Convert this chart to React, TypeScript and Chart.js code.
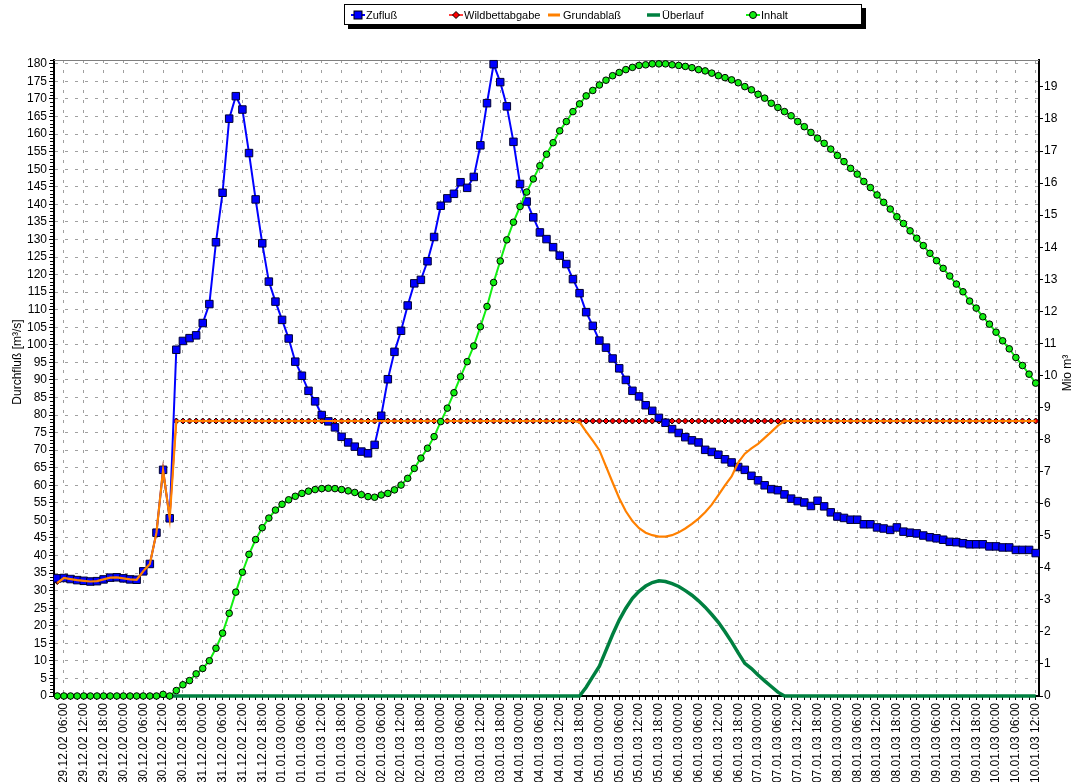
import React, { useEffect, useRef } from 'react';
import { Chart, registerables } from 'chart.js';

Chart.register(...registerables);

// ---- time axis (2-hour steps, 29.12.02 04:00 .. 10.01.03 12:00) ----
const START_UTC = Date.UTC(2002, 11, 29, 4, 0);
const STEP_HOURS = 2;
const N_POINTS = 149;
const pad2 = (n: number) => String(n).padStart(2, '0');
const fmtLabel = (t: number) => {
  const d = new Date(t);
  return `${pad2(d.getUTCDate())}.${pad2(d.getUTCMonth() + 1)}.${pad2(d.getUTCFullYear() % 100)} ${pad2(d.getUTCHours())}:${pad2(d.getUTCMinutes())}`;
};
const timeLabels: string[] = Array.from({ length: N_POINTS }, (_, i) => fmtLabel(START_UTC + i * STEP_HOURS * 3600000));
const isMajor = (i: number) => {
  const l = timeLabels[i] || '';
  return /(00|06|12|18):00$/.test(l);
};

// ---- series (m³/s on left axis) ----
const zufluss: number[] = [
  33.5, 33.6, 33.3, 33.0, 32.8, 32.6, 32.7, 33.2, 33.7, 33.8, 33.5, 33.2, 33.1, 35.5, 37.6, 46.5, 64.4, 50.6,
  98.6, 101.1, 101.9, 102.7, 106.2, 111.6, 129.2, 143.3, 164.4, 170.8, 167.0, 154.6,
  141.4, 128.9, 118.0, 112.3, 107.1, 101.8, 95.2, 91.2, 86.9, 83.9,
  80.0, 78.2, 76.5, 73.8, 72.2, 71.0, 69.6, 69.1, 71.5, 79.8,
  90.2, 98.0, 104.0, 111.2, 117.5, 118.5, 123.8, 130.7, 139.6, 141.7,
  143.0, 146.3, 144.7, 147.8, 156.8, 168.8, 179.9, 174.8, 167.9, 157.8,
  145.8, 140.8, 136.3, 132.0, 130.1, 127.8, 125.4, 123.0, 118.7, 114.7,
  109.3, 105.4, 101.2, 99.2, 96.1, 93.3, 90.0, 86.9, 85.3, 82.8,
  81.2, 79.2, 77.8, 76.0, 74.9, 73.7, 72.8, 72.2, 70.1, 69.5,
  68.7, 67.4, 66.5, 65.2, 64.4, 62.7, 61.4, 60.0, 58.9, 58.6,
  57.4, 56.2, 55.5, 55.1, 54.1, 55.6, 54.0, 52.3, 51.1, 50.7,
  50.2, 50.2, 48.9, 48.9, 48.0, 47.7, 47.3, 48.0, 46.8, 46.5,
  46.3, 45.7, 45.2, 44.9, 44.5, 43.9, 43.8, 43.5, 43.2, 43.2,
  43.2, 42.6, 42.6, 42.3, 42.3, 41.6, 41.6, 41.6, 40.7,
];

const wildbettabgabe: number[] = [
  32.6, 33.6, 33.3, 33.0, 32.8, 32.6, 32.7, 33.2, 33.7, 33.8, 33.5, 33.2, 33.1, 35.5, 37.6, 46.5, 64.4, 50.6,
  78.3, 78.3, 78.3, 78.3, 78.3, 78.3, 78.3, 78.3, 78.3, 78.3, 78.3, 78.3,
  78.3, 78.3, 78.3, 78.3, 78.3, 78.3, 78.3, 78.3, 78.3, 78.3,
  78.3, 78.3, 78.3, 78.3, 78.3, 78.3, 78.3, 78.3, 78.3, 78.3,
  78.3, 78.3, 78.3, 78.3, 78.3, 78.3, 78.3, 78.3, 78.3, 78.3,
  78.3, 78.3, 78.3, 78.3, 78.3, 78.3, 78.3, 78.3, 78.3, 78.3,
  78.3, 78.3, 78.3, 78.3, 78.3, 78.3, 78.3, 78.3, 78.3, 78.3,
  78.3, 78.3, 78.3, 78.3, 78.3, 78.3, 78.3, 78.3, 78.3, 78.3,
  78.3, 78.3, 78.3, 78.3, 78.3, 78.3, 78.3, 78.3, 78.3, 78.3,
  78.3, 78.3, 78.3, 78.3, 78.3, 78.3, 78.3, 78.3, 78.3, 78.3,
  78.3, 78.3, 78.3, 78.3, 78.3, 78.3, 78.3, 78.3, 78.3, 78.3,
  78.3, 78.3, 78.3, 78.3, 78.3, 78.3, 78.3, 78.3, 78.3, 78.3,
  78.3, 78.3, 78.3, 78.3, 78.3, 78.3, 78.3, 78.3, 78.3, 78.3,
  78.3, 78.3, 78.3, 78.3, 78.3, 78.3, 78.3, 78.3, 78.3,
];

const grundablass: number[] = [
  32.2, 33.6, 33.3, 33.0, 32.8, 32.6, 32.7, 33.2, 33.7, 33.8, 33.5, 33.2, 33.1, 35.5, 37.6, 46.5, 64.4, 50.6,
  78.3, 78.3, 78.3, 78.3, 78.3, 78.3, 78.3, 78.3, 78.3, 78.3, 78.3, 78.3,
  78.3, 78.3, 78.3, 78.3, 78.3, 78.3, 78.3, 78.3, 78.3, 78.3,
  78.3, 78.3, 78.3, 78.3, 78.3, 78.3, 78.3, 78.3, 78.3, 78.3,
  78.3, 78.3, 78.3, 78.3, 78.3, 78.3, 78.3, 78.3, 78.3, 78.3,
  78.3, 78.3, 78.3, 78.3, 78.3, 78.3, 78.3, 78.3, 78.3, 78.3,
  78.3, 78.3, 78.3, 78.3, 78.3, 78.3, 78.3, 78.3, 78.3, 78.0,
  75.3, 72.7, 70.0, 65.4, 60.8, 56.3, 52.6, 49.8, 47.8, 46.5,
  45.8, 45.4, 45.4, 45.8, 46.6, 47.7, 49.0, 50.5, 52.3, 54.5,
  57.2, 60.0, 62.5, 66.5, 69.0, 70.5, 71.8, 73.5, 75.2, 77.0,
  78.3, 78.3, 78.3, 78.3, 78.3, 78.3, 78.3, 78.3, 78.3, 78.3,
  78.3, 78.3, 78.3, 78.3, 78.3, 78.3, 78.3, 78.3, 78.3, 78.3,
  78.3, 78.3, 78.3, 78.3, 78.3, 78.3, 78.3, 78.3, 78.3, 78.3,
  78.3, 78.3, 78.3, 78.3, 78.3, 78.3, 78.3, 78.3, 78.3,
];

const ueberlauf: number[] = [
  0, 0, 0, 0, 0, 0, 0, 0, 0, 0, 0, 0, 0, 0, 0, 0, 0, 0,
  0, 0, 0, 0, 0, 0, 0, 0, 0, 0, 0, 0,
  0, 0, 0, 0, 0, 0, 0, 0, 0, 0,
  0, 0, 0, 0, 0, 0, 0, 0, 0, 0,
  0, 0, 0, 0, 0, 0, 0, 0, 0, 0,
  0, 0, 0, 0, 0, 0, 0, 0, 0, 0,
  0, 0, 0, 0, 0, 0, 0, 0, 0, 0,
  2.5, 5.5, 8.5, 13.0, 17.5, 21.6, 25.0, 27.8, 29.8, 31.3,
  32.3, 32.8, 32.6, 32.0, 31.2, 30.0, 28.7, 27.1, 25.3, 23.2,
  21.0, 18.3, 15.4, 12.3, 9.3, 7.8, 6.0, 4.3, 2.7, 1.1,
  0, 0, 0, 0, 0, 0, 0, 0, 0, 0,
  0, 0, 0, 0, 0, 0, 0, 0, 0, 0,
  0, 0, 0, 0, 0, 0, 0, 0, 0, 0,
  0, 0, 0, 0, 0, 0, 0, 0, 0,
];

// ---- storage (Mio m³ on right axis) ----
const inhalt: number[] = [
  0, 0, 0, 0, 0, 0, 0, 0, 0, 0, 0, 0, 0, 0, 0, 0, 0.05, 0,
  0.17, 0.35, 0.48, 0.69, 0.86, 1.10, 1.49, 1.96, 2.58, 3.24, 3.86, 4.42,
  4.88, 5.25, 5.55, 5.80, 5.98, 6.12, 6.23, 6.32, 6.39, 6.44,
  6.47, 6.48, 6.47, 6.44, 6.40, 6.35, 6.28, 6.22, 6.20, 6.27,
  6.32, 6.43, 6.58, 6.79, 7.10, 7.42, 7.73, 8.09, 8.56, 8.98,
  9.46, 9.96, 10.43, 10.92, 11.52, 12.15, 12.90, 13.57, 14.23, 14.78,
  15.27, 15.72, 16.13, 16.54, 16.90, 17.26, 17.63, 17.92, 18.23, 18.47,
  18.72, 18.89, 19.06, 19.21, 19.35, 19.45, 19.54, 19.61, 19.67, 19.69,
  19.72, 19.72, 19.72, 19.69, 19.67, 19.64, 19.60, 19.54, 19.50, 19.43,
  19.35, 19.29, 19.22, 19.13, 19.01, 18.91, 18.77, 18.65, 18.49, 18.36,
  18.23, 18.10, 17.92, 17.76, 17.58, 17.40, 17.24, 17.06, 16.86, 16.67,
  16.46, 16.28, 16.05, 15.86, 15.63, 15.40, 15.19, 14.95, 14.74, 14.51,
  14.28, 14.05, 13.81, 13.58, 13.34, 13.10, 12.85, 12.61, 12.32, 12.10,
  11.83, 11.60, 11.35, 11.08, 10.83, 10.56, 10.31, 10.04, 9.76,
];

const LEFT_MAX = 181.1;
const RIGHT_MAX = 19.84;
const FONT = "'Liberation Sans', Arial, sans-serif";
const GRID = '#a0a0a0';

const C_BLUE = '#0000ff';
const C_RED = '#ff0000';
const C_ORANGE = '#ff8000';
const C_DKGREEN = '#008040';
const C_GREEN = '#11ee11';

const decoPlugin = {
  id: 'deco',
  beforeDatasetsDraw(chart: any) {
    const { ctx, chartArea: a } = chart;
    ctx.save();
    ctx.strokeStyle = '#808080';
    ctx.lineWidth = 1;
    ctx.beginPath();
    ctx.moveTo(a.left, a.top + 0.5);
    ctx.lineTo(a.right, a.top + 0.5);
    ctx.stroke();
    // minor ticks on the left axis (every 1 m³/s)
    const y = chart.scales.y;
    ctx.strokeStyle = '#000';
    ctx.beginPath();
    for (let v = 1; v <= Math.floor(LEFT_MAX); v++) {
      if (v % 5 === 0) continue;
      const py = Math.round(y.getPixelForValue(v)) + 0.5;
      ctx.moveTo(a.left - 4, py);
      ctx.lineTo(a.left - 1, py);
    }
    ctx.stroke();
    ctx.restore();
  },
  afterDraw(chart: any) {
    const { ctx } = chart;
    ctx.save();
    ctx.fillStyle = '#000';
    ctx.font = `12px ${FONT}`;
    ctx.textAlign = 'center';
    ctx.textBaseline = 'middle';
    ctx.translate(18, 362);
    ctx.rotate(-Math.PI / 2);
    ctx.fillText('Durchfluß [m³/s]', 0, 0);
    ctx.restore();
    ctx.save();
    ctx.fillStyle = '#000';
    ctx.font = `12px ${FONT}`;
    ctx.textAlign = 'center';
    ctx.textBaseline = 'middle';
    ctx.translate(1068, 373);
    ctx.rotate(-Math.PI / 2);
    ctx.fillText('Mio m³', 0, 0);
    ctx.restore();
  },
};

const legendItems = [
  { label: 'Zufluß', kind: 'square', color: C_BLUE, x: 351 },
  { label: 'Wildbettabgabe', kind: 'diamond', color: C_RED, x: 449 },
  { label: 'Grundablaß', kind: 'line', color: C_ORANGE, x: 548 },
  { label: 'Überlauf', kind: 'thick', color: C_DKGREEN, x: 647 },
  { label: 'Inhalt', kind: 'circle', color: C_GREEN, x: 746 },
];

function Marker({ kind, color }: { kind: string; color: string }) {
  return (
    <svg width={14} height={10} style={{ display: 'block' }}>
      {kind === 'square' && (
        <>
          <line x1={0} y1={5} x2={14} y2={5} stroke={color} strokeWidth={2} />
          <rect x={3} y={1} width={8} height={8} fill={color} stroke="#000" strokeWidth={1} />
        </>
      )}
      {kind === 'diamond' && (
        <>
          <line x1={0} y1={5} x2={14} y2={5} stroke={color} strokeWidth={1.5} />
          <polygon points="7,1.5 10.5,5 7,8.5 3.5,5" fill={color} stroke="#000" strokeWidth={1} />
        </>
      )}
      {kind === 'line' && <line x1={0} y1={5} x2={12} y2={5} stroke={color} strokeWidth={3} />}
      {kind === 'thick' && <line x1={0} y1={5} x2={13} y2={5} stroke={color} strokeWidth={3.5} />}
      {kind === 'circle' && (
        <>
          <line x1={0} y1={5} x2={14} y2={5} stroke={color} strokeWidth={2} />
          <circle cx={7} cy={5} r={3.5} fill={color} stroke="#000" strokeWidth={1} />
        </>
      )}
    </svg>
  );
}

export default function App() {
  const canvasRef = useRef<HTMLCanvasElement | null>(null);

  useEffect(() => {
    const canvas = canvasRef.current;
    if (!canvas) return;
    const chart = new Chart(canvas, {
      type: 'line',
      data: {
        labels: timeLabels,
        datasets: [
          {
            label: 'Zufluß',
            data: zufluss,
            yAxisID: 'y',
            borderColor: C_BLUE,
            backgroundColor: C_BLUE,
            borderWidth: 2,
            pointStyle: 'rect',
            pointRadius: 5.3,
            pointBorderColor: '#000033',
            pointBorderWidth: 1,
            pointBackgroundColor: C_BLUE,
            tension: 0,
            clip: false as any,
            order: 4,
          },
          {
            label: 'Wildbettabgabe',
            data: wildbettabgabe,
            yAxisID: 'y',
            borderColor: C_RED,
            backgroundColor: C_RED,
            borderWidth: 1.5,
            pointStyle: 'rectRot',
            pointRadius: 3,
            pointBorderColor: '#000',
            pointBorderWidth: 1,
            pointBackgroundColor: C_RED,
            tension: 0,
            clip: false as any,
            order: 5,
          },
          {
            label: 'Grundablaß',
            data: grundablass,
            yAxisID: 'y',
            borderColor: C_ORANGE,
            backgroundColor: C_ORANGE,
            borderWidth: 2.2,
            pointRadius: 0,
            tension: 0,
            clip: false as any,
            order: 3,
          },
          {
            label: 'Überlauf',
            data: ueberlauf,
            yAxisID: 'y',
            borderColor: C_DKGREEN,
            backgroundColor: C_DKGREEN,
            borderWidth: 3.5,
            pointRadius: 0,
            tension: 0,
            clip: false as any,
            order: 2,
          },
          {
            label: 'Inhalt',
            data: inhalt,
            yAxisID: 'y1',
            borderColor: C_GREEN,
            backgroundColor: C_GREEN,
            borderWidth: 2,
            pointStyle: 'circle',
            pointRadius: 3.3,
            pointBorderColor: '#000',
            pointBorderWidth: 1,
            pointBackgroundColor: C_GREEN,
            tension: 0,
            clip: false as any,
            order: 1,
          },
        ],
      },
      options: {
        animation: false,
        responsive: false,
        maintainAspectRatio: false,
        events: [],
        layout: { padding: { top: 60, left: 0, right: 0, bottom: 0 } },
        plugins: {
          legend: { display: false },
          tooltip: { enabled: false },
        },
        scales: {
          x: {
            type: 'category',
            offset: true,
            grid: {
              offset: false,
              color: (ctx: any) => (isMajor(ctx.index) ? GRID : 'rgba(0,0,0,0)'),
              lineWidth: 1,
              drawTicks: true,
              tickLength: 4,
              tickColor: '#000',
            },
            border: { display: true, color: '#000', width: 2, dash: [3, 7] },
            ticks: {
              autoSkip: false,
              maxRotation: 90,
              minRotation: 90,
              padding: 3,
              color: '#000',
              font: { family: FONT, size: 12 },
              callback: (_v: any, i: number) => (isMajor(i) ? timeLabels[i] : ''),
            },
            afterFit: (s: any) => {
              s.height = 86;
            },
          },
          y: {
            type: 'linear',
            position: 'left',
            min: 0,
            max: LEFT_MAX,
            grid: {
              color: GRID,
              lineWidth: 1,
              drawTicks: true,
              tickLength: 5,
              tickColor: '#000',
            },
            border: { display: true, color: '#000', width: 2, dash: [3, 7] },
            ticks: {
              stepSize: 5,
              includeBounds: false,
              autoSkip: false,
              padding: 2,
              color: '#000',
              font: { family: FONT, size: 12 },
            },
            afterFit: (s: any) => {
              s.width = 54;
            },
          },
          y1: {
            type: 'linear',
            position: 'right',
            min: 0,
            max: RIGHT_MAX,
            grid: {
              drawOnChartArea: false,
              drawTicks: true,
              tickLength: 4,
              tickColor: '#000',
            },
            border: { display: true, color: '#000', width: 2 },
            ticks: {
              stepSize: 1,
              includeBounds: false,
              autoSkip: false,
              padding: 1,
              color: '#000',
              font: { family: FONT, size: 12 },
            },
            afterFit: (s: any) => {
              s.width = 36;
            },
          },
        },
      } as any,
      plugins: [decoPlugin],
    });
    return () => chart.destroy();
  }, []);

  return (
    <div style={{ position: 'fixed', left: 0, top: 0, width: 1075, height: 782, background: '#fff', overflow: 'hidden' }}>
      <canvas ref={canvasRef} width={1075} height={782} style={{ position: 'absolute', left: 0, top: 0, width: 1075, height: 782 }} />
      <div
        style={{
          position: 'absolute',
          left: 344,
          top: 4,
          width: 518,
          height: 21,
          boxSizing: 'border-box',
          border: '1px solid #000',
          background: '#fff',
          boxShadow: '4px 4px 0 #000',
        }}
      />
      {legendItems.map((it) => (
        <React.Fragment key={it.label}>
          <div style={{ position: 'absolute', left: it.x, top: 10 }}>
            <Marker kind={it.kind} color={it.color} />
          </div>
          <div
            style={{
              position: 'absolute',
              left: it.x + 15,
              top: 7,
              fontFamily: FONT,
              fontSize: 11,
              lineHeight: '16px',
              color: '#000',
              whiteSpace: 'nowrap',
            }}
          >
            {it.label}
          </div>
        </React.Fragment>
      ))}
    </div>
  );
}
